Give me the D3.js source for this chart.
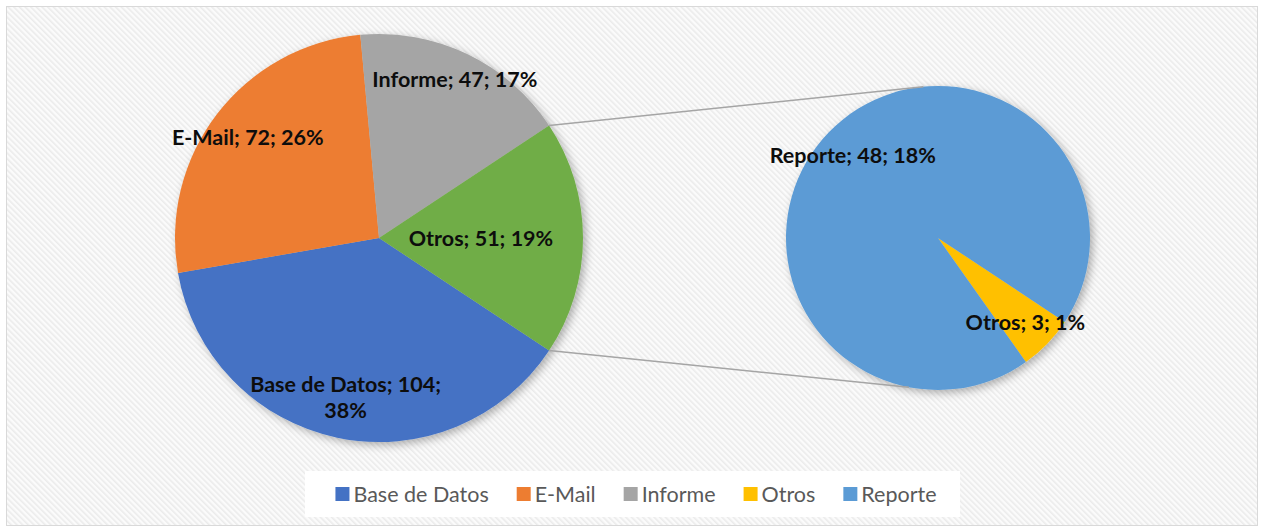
<!DOCTYPE html>
<html><head><meta charset="utf-8">
<script src="https://cdn.jsdelivr.net/npm/d3@7"></script>
<style>body{margin:0;background:#fff}</style>
</head><body>
<svg id="c" width="1261" height="531"></svg>
<script>
// ---- data ----
const categories = ["Base de Datos", "E-Mail", "Informe", "Otros", "Reporte"];
const values = [104, 72, 47, 3, 48];
const mainCategories = ["Base de Datos", "E-Mail", "Informe", "Otros"];
const mainValues = [104, 72, 47, 51];          // "Otros" = Otros (3) + Reporte (48)
const secondCategories = ["Otros", "Reporte"];
const secondValues = [3, 48];

// ---- styles ----
const colorMap = {
  "Base de Datos": "#4472C4", "E-Mail": "#ED7D31", "Informe": "#A5A5A5",
  "Otros": "#FFC000", "Reporte": "#5B9BD5"
};
const mainColors = ["#4472C4", "#ED7D31", "#A5A5A5", "#70AD47"];
const mainLabelR = [0.8, 0.81, 0.86, 0.5];
const secondLabelR = [0.8, 0.78];
const font = "Lato, 'Noto Sans', sans-serif";

const W = 1261, H = 531;
const svg = d3.select("#c");
const defs = svg.append("defs");
const pat = defs.append("pattern").attr("id", "stripes").attr("patternUnits", "userSpaceOnUse")
  .attr("width", 4).attr("height", 4).attr("patternTransform", "rotate(-45)");
pat.append("rect").attr("width", 4).attr("height", 4).attr("fill", "#fbfbfb");
pat.append("rect").attr("width", 1.6).attr("height", 4).attr("fill", "#ebebeb");
const f = defs.append("filter").attr("id", "sh").attr("x", "-20%").attr("y", "-20%").attr("width", "140%").attr("height", "140%");
f.append("feDropShadow").attr("dx", 3).attr("dy", 3).attr("stdDeviation", 4)
  .attr("flood-color", "#000").attr("flood-opacity", 0.3);

svg.append("rect").attr("x", 0).attr("y", 0).attr("width", W).attr("height", H).attr("fill", "#fff");
svg.append("rect").attr("x", 6.5).attr("y", 6.5).attr("width", 1251).attr("height", 519)
  .attr("fill", "url(#stripes)").attr("stroke", "#d9d9d9").attr("stroke-width", 1);

const total = d3.sum(values);
const pct = v => Math.round(v / total * 100) + "%";
const deg = Math.PI / 180;

// main pie
const c1 = [379, 238], R1 = 204;
const otrosFrac = mainValues[3] / d3.sum(mainValues);
const start1 = Math.PI / 2 + otrosFrac * Math.PI;
const pie1 = d3.pie().sort(null).value(d => d.v).startAngle(start1).endAngle(start1 + 2 * Math.PI);
const arcs1 = pie1(mainCategories.map((c, i) => ({ c, v: mainValues[i], i })));
const arc1 = d3.arc().innerRadius(0).outerRadius(R1);
const g1 = svg.append("g").attr("transform", `translate(${c1})`);
g1.append("g").attr("filter", "url(#sh)").selectAll("path").data(arcs1).join("path")
  .attr("d", arc1).attr("fill", d => mainColors[d.data.i]);

// second pie
const c2 = [938, 238], R2 = 152;
const start2 = 123.5 * deg;
const pie2 = d3.pie().sort(null).value(d => d.v).startAngle(start2).endAngle(start2 + 2 * Math.PI);
const arcs2 = pie2(secondCategories.map((c, i) => ({ c, v: secondValues[i], i })));
const arc2 = d3.arc().innerRadius(0).outerRadius(R2);
const g2 = svg.append("g").attr("transform", `translate(${c2})`);
g2.append("g").attr("filter", "url(#sh)").selectAll("path").data(arcs2).join("path")
  .attr("d", arc2).attr("fill", d => colorMap[d.data.c]);

// connector lines
const otrosArc = arcs1[3];
const pt = (c, r, a) => [c[0] + r * Math.sin(a), c[1] - r * Math.cos(a)];
const lines = [
  [pt(c1, R1, otrosArc.startAngle), pt(c2, R2, -5.5 * deg)],
  [pt(c1, R1, otrosArc.endAngle), pt(c2, R2, 191 * deg)]
];
svg.append("g").selectAll("line").data(lines).join("line")
  .attr("x1", d => d[0][0]).attr("y1", d => d[0][1]).attr("x2", d => d[1][0]).attr("y2", d => d[1][1])
  .attr("stroke", "#a5a5a5").attr("stroke-width", 1.5);

// labels
function label(g, d, r, lines) {
  const a = (d.startAngle + d.endAngle) / 2;
  const x = r * Math.sin(a), y = -r * Math.cos(a);
  const t = g.append("text").attr("x", x).attr("y", y).attr("text-anchor", "middle")
    .attr("font-family", font).attr("font-weight", "bold").attr("font-size", 21.5).attr("fill", "#0d0d0d");
  const lh = 26;
  lines.forEach((s, k) => {
    t.append("tspan").attr("x", x).attr("y", y + (k - (lines.length - 1) / 2) * lh).attr("dy", "0.35em").text(s);
  });
}
arcs1.forEach(d => {
  const txt = `${d.data.c}; ${d.data.v}; ${pct(d.data.v)}`;
  const parts = d.data.c === "Base de Datos" ? [`${d.data.c}; ${d.data.v};`, pct(d.data.v)] : [txt];
  label(g1, d, R1 * mainLabelR[d.data.i], parts);
});
arcs2.forEach(d => {
  label(g2, d, R2 * secondLabelR[d.data.i], [`${d.data.c}; ${d.data.v}; ${pct(d.data.v)}`]);
});

// legend
svg.append("rect").attr("x", 305).attr("y", 471).attr("width", 655).attr("height", 46).attr("fill", "#fff");
const lg = svg.append("g");
const items = categories.map(c => {
  const g = lg.append("g");
  g.append("rect").attr("width", 14).attr("height", 14).attr("y", -7).attr("fill", colorMap[c]);
  const t = g.append("text").attr("x", 18).attr("dy", "0.35em").attr("font-family", font)
    .attr("font-size", 21.5).attr("fill", "#595959").text(c);
  return { g, w: 18 + t.node().getComputedTextLength() };
});
const gap = 28;
const totalW = d3.sum(items, d => d.w) + gap * (items.length - 1);
let x = 636 - totalW / 2;
items.forEach(it => { it.g.attr("transform", `translate(${x},494)`); x += it.w + gap; });
</script>
</body></html>
